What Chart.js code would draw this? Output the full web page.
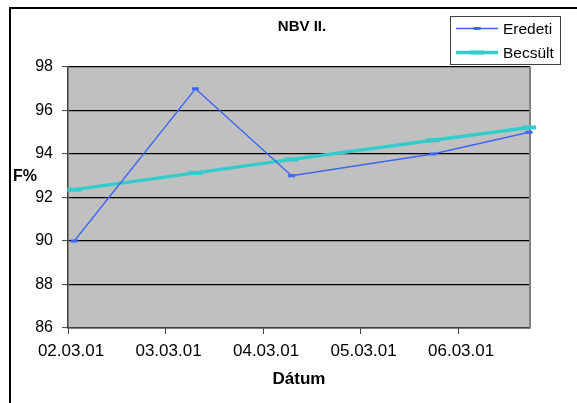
<!DOCTYPE html>
<html><head><meta charset="utf-8">
<script src="https://cdn.jsdelivr.net/npm/chart.js@4"></script>
<style>
html,body{margin:0;padding:0;background:#fff;overflow:hidden}
#wrap{position:relative;width:577px;height:403px;overflow:hidden}
#frame{position:absolute;left:9px;top:7px;width:620px;height:440px;border-left:2px solid #000;border-top:2px solid #000;box-sizing:border-box}
canvas{position:absolute;left:0;top:0}
</style></head>
<body><div id="wrap"><div id="frame"></div><canvas id="c" width="577" height="403"></canvas></div>
<script>
const chartTitle = 'NBV II.';
const xAxisTitle = 'Dátum';
const yAxisTitle = 'F%';
const tickLabels = ['02.03.01', '03.03.01', '04.03.01', '05.03.01', '06.03.01'];
const xPositions = [0.064, 1.307, 2.293, 3.741, 4.727];
const eredeti = [90, 97, 93, 94, 95];
const becsult = [92.36, 93.13, 93.75, 94.63, 95.22];
const seriesNames = ['Eredeti', 'Becsült'];
const yMin = 86, yMax = 98, yStep = 2;
const xMax = 4.737;

const FONT = "'Liberation Sans', Arial, sans-serif";
const BLUE = '#3D66F2';
const CYAN = '#33CCCC';

const toPts = vals => vals.map((v, i) => ({x: xPositions[i], y: v}));

const decor = {
  id: 'decor',
  beforeDraw(chart) {
    const {ctx, chartArea: a} = chart;
    ctx.save();
    ctx.fillStyle = '#C0C0C0';
    ctx.fillRect(a.left, a.top, a.right - a.left, a.bottom - a.top);
    ctx.restore();
  },
  beforeDatasetsDraw(chart) {
    const {ctx, chartArea: a} = chart;
    ctx.save();
    ctx.strokeStyle = '#808080';
    ctx.lineWidth = 2;
    ctx.beginPath();
    ctx.moveTo(a.right, a.top);
    ctx.lineTo(a.right, a.bottom);
    ctx.stroke();
    ctx.restore();
  },
  afterDraw(chart) {
    const {ctx} = chart;
    ctx.save();
    ctx.fillStyle = '#000';
    ctx.font = 'bold 15px ' + FONT;
    ctx.textAlign = 'center';
    ctx.textBaseline = 'middle';
    ctx.fillText(chartTitle, 302, 27);
    ctx.font = 'bold 16px ' + FONT;
    ctx.textAlign = 'left';
    ctx.fillText(yAxisTitle, 13, 177);
    const lx = 450.5, ly = 16.5, lw = 110, lh = 48;
    ctx.fillStyle = '#fff';
    ctx.fillRect(lx, ly, lw, lh);
    ctx.strokeStyle = '#404040';
    ctx.lineWidth = 1;
    ctx.strokeRect(lx, ly, lw, lh);
    chart.data.datasets.forEach((ds, i) => {
      const y = ly + 12 + i * 24;
      ctx.strokeStyle = ds.borderColor;
      ctx.lineWidth = ds.borderWidth;
      ctx.beginPath();
      ctx.moveTo(456, y);
      ctx.lineTo(498, y);
      ctx.stroke();
      ctx.lineWidth = ds.pointBorderWidth;
      ctx.beginPath();
      ctx.moveTo(477 - ds.pointRadius, y);
      ctx.lineTo(477 + ds.pointRadius, y);
      ctx.stroke();
      ctx.fillStyle = '#000';
      ctx.font = '15.5px ' + FONT;
      ctx.textAlign = 'left';
      ctx.textBaseline = 'middle';
      ctx.fillText(ds.label, 503, y + 1);
    });
    ctx.restore();
  }
};

new Chart(document.getElementById('c'), {
  type: 'line',
  data: {
    datasets: [
      {label: seriesNames[0], data: toPts(eredeti), borderColor: BLUE, borderWidth: 1.3,
       pointStyle: 'line', pointRadius: 3.5, pointBorderWidth: 3, pointBorderColor: BLUE,
       pointBackgroundColor: BLUE, tension: 0, clip: false},
      {label: seriesNames[1], data: toPts(becsult), borderColor: CYAN, borderWidth: 3.4,
       pointStyle: 'line', pointRadius: 7, pointBorderWidth: 4, pointBorderColor: CYAN,
       pointBackgroundColor: CYAN, tension: 0, clip: false}
    ]
  },
  options: {
    responsive: false,
    animation: false,
    devicePixelRatio: 1,
    layout: {padding: {top: 67, right: 47, left: 0, bottom: 0}},
    plugins: {legend: {display: false}, title: {display: false}, tooltip: {enabled: false}},
    scales: {
      x: {
        type: 'linear', min: 0, max: xMax,
        afterBuildTicks: s => { s.ticks = tickLabels.map((_, i) => ({value: i})); },
        afterFit: s => { s.height = 75; },
        ticks: {autoSkip: false, maxRotation: 0, padding: 7, labelOffset: 3, color: '#000',
                font: {family: FONT, size: 17}, callback: v => tickLabels[v] ?? ''},
        grid: {drawOnChartArea: false, drawTicks: true, tickLength: 6, tickColor: '#404040', tickWidth: 1},
        border: {display: true, color: '#404040', width: 1.5},
        title: {display: true, text: xAxisTitle, color: '#000', font: {family: FONT, size: 17, weight: 'bold'},
                padding: {top: 0, bottom: 13}}
      },
      y: {
        min: yMin, max: yMax,
        afterFit: s => { s.width = 68; },
        ticks: {stepSize: yStep, padding: 9, color: '#000', font: {family: FONT, size: 16}},
        grid: {color: '#000', lineWidth: 1.2, tickLength: 6, tickColor: '#404040', tickWidth: 1},
        border: {display: true, color: '#404040', width: 1.5}
      }
    }
  },
  plugins: [decor]
});
</script>
</body></html>
